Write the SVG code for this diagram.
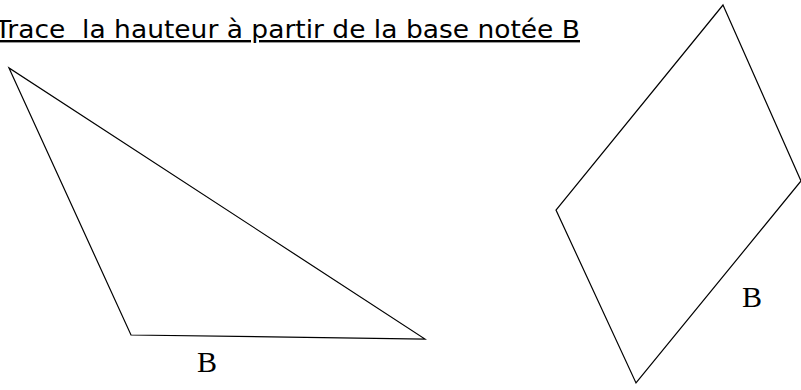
<svg xmlns="http://www.w3.org/2000/svg" width="801" height="390" viewBox="0 0 801 390">
<style>
.shape{fill:none;stroke:#000;stroke-width:1.2;stroke-linejoin:miter}
.title{font-family:"DejaVu Sans",Verdana,sans-serif;font-size:24px;fill:#000;text-decoration:underline;white-space:pre}
.lbl{font-family:"Liberation Serif","Times New Roman",serif;font-size:30px;fill:#000}
</style>
<rect width="801" height="390" fill="#fff"/>
<text class="title" x="-5" y="38" xml:space="preserve" textLength="585" lengthAdjust="spacingAndGlyphs">Trace  la hauteur à partir de la base notée B</text>
<g id="triangle">
<polygon class="shape" points="9,68 131,335 425,339"/>
<text class="lbl" x="197" y="372">B</text>
</g>
<g id="parallelogram">
<polygon class="shape" points="723,5 801,181 636,383 556,210"/>
<text class="lbl" x="742" y="307">B</text>
</g>
</svg>
